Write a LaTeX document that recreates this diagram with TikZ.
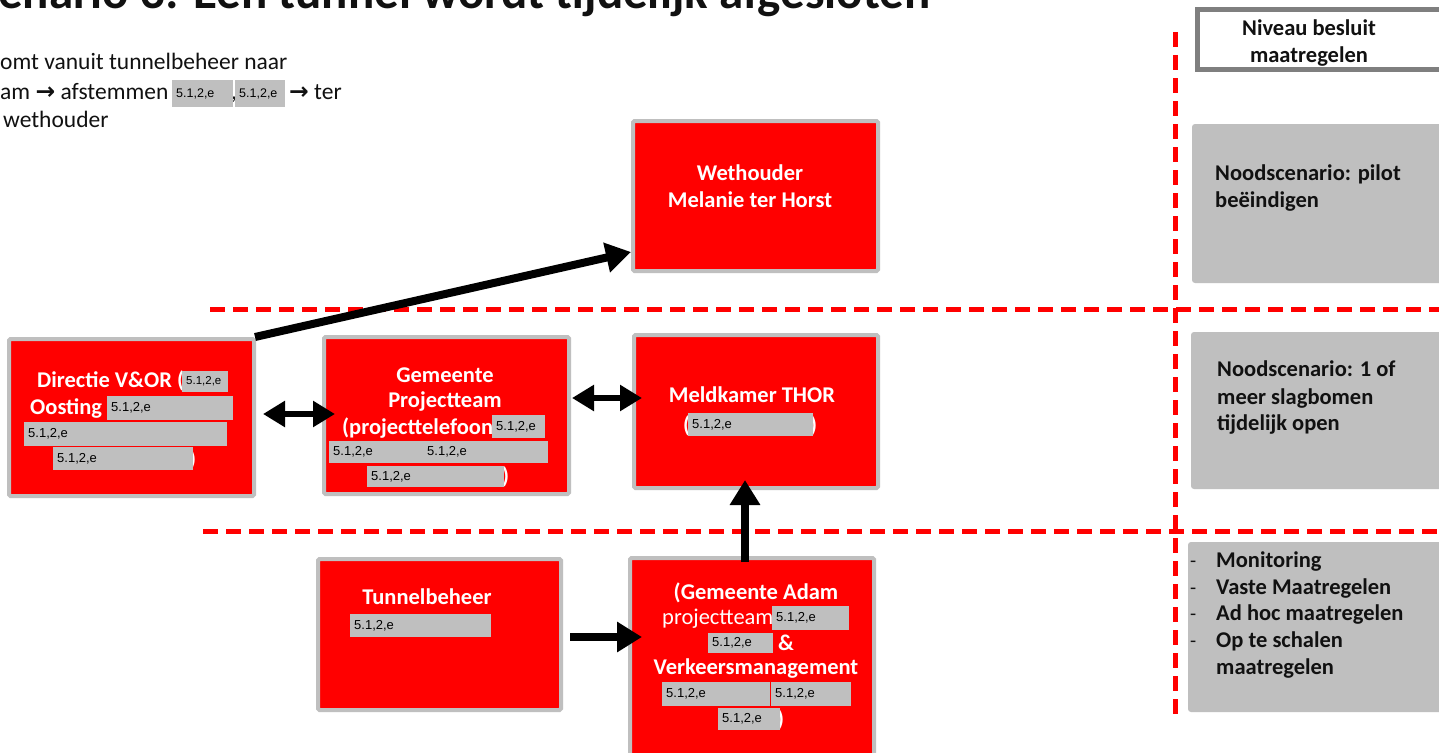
\documentclass[tikz,border=0pt]{standalone}
\usepackage{fontspec}
\setmainfont{Carlito}
\newfontfamily\arialf{Liberation Sans}
\newfontfamily\arrf{DejaVu Sans}
\usetikzlibrary{arrows.meta,calc}
\definecolor{boxgray}{HTML}{BFBFBF}
\definecolor{darkgray}{HTML}{7F7F7F}
\definecolor{txt}{HTML}{111111}
\newcommand\rdx[6][13]{%
  \node[rdbox, minimum width=#5pt, minimum height=#6pt, anchor=north west] (#2) at (#3,#4) {};
  \node[rdtxt, font=\arialf\fontsize{#1}{#1}\selectfont, anchor=west] (#2t) at ([xshift=4pt]#2.west) {5.1,2,e};}
\begin{document}
\begin{tikzpicture}[x=1pt,y=-1pt,
  redbox/.style={draw=boxgray, line width=4pt, fill=red, rounded corners=1.5pt, inner sep=0pt, outer sep=0pt},
  graybox/.style={fill=boxgray, rounded corners=3pt, inner sep=0pt, outer sep=0pt, anchor=north west},
  rdbox/.style={fill=boxgray, inner sep=0pt, outer sep=0pt, draw=none},
  rdtxt/.style={inner sep=0pt, text=black},
  wl/.style={text=white, font=\fontsize{22.5}{27}\selectfont\bfseries, inner sep=0pt, anchor=base},
  wlw/.style={wl, anchor=base west},
  bl/.style={text=txt, font=\fontsize{22.5}{27}\selectfont\bfseries, inner sep=0pt, anchor=base west},
  pl/.style={text=txt, font=\fontsize{23.5}{28}\selectfont, inner sep=0pt, anchor=base west},
  sep/.style={draw=red, line width=5pt, dash pattern=on 15pt off 8pt},
  arr/.style={line width=8pt, -{Triangle[length=25pt,width=29pt]}},
  darr/.style={line width=6pt, {Triangle[length=22pt,width=25pt]}-{Triangle[length=22pt,width=25pt]}},
]
\useasboundingbox (0,0) rectangle (1439,752);
\clip (0,0) rectangle (1439,752);
\fill[white] (0,0) rectangle (1439,752);

% title (cut at top)
\node[text=txt, font=\fontsize{49}{49}\selectfont\bfseries, inner sep=0pt, anchor=base west] (title) at (-2,9) {enario 3: Een tunnel wordt tijdelijk afgesloten};

% intro text
\node[pl] (t1) at (0,70) {omt vanuit tunnelbeheer naar};
\node[pl] (t2a) at (0,99) {am {\arrf\bfseries →} afstemmen};
\node[pl] (t2b) at (231,99) {,};
\rdx[12.5]{r0a}{172}{80}{61}{27}
\rdx[12.5]{r0b}{235}{80}{50}{27}
\node[pl] (t2c) at (289,99) {{\arrf\bfseries →} ter};
\node[pl] (t3) at (3,127) {wethouder};

% separators
\draw[sep] (1175,32) -- (1175,718);
\draw[sep] (210,309) -- (1439,309);
\draw[sep] (203,531) -- (1439,531);

% right column
\draw[draw=darkgray, line width=5pt] (1445,9.5) -- (1197.5,9.5) -- (1197.5,69.5) -- (1445,69.5);
\node[bl, anchor=base] (niv1) at (1309,36) {Niveau besluit};
\node[bl, anchor=base] (niv2) at (1309,63) {maatregelen};

\node[graybox, minimum width=260pt, minimum height=159pt] (g1) at (1192,124) {};
\node[bl] (g1a) at (1215,180) {Noodscenario: pilot};
\node[bl] (g1b) at (1215,207) {beëindigen};

\node[graybox, minimum width=260pt, minimum height=157pt] (g2) at (1191,332) {};
\node[bl] (g2a) at (1217,376) {Noodscenario: 1 of};
\node[bl] (g2b) at (1217,404) {meer slagbomen};
\node[bl] (g2c) at (1217,430) {tijdelijk open};

\node[graybox, minimum width=260pt, minimum height=170pt] (g3) at (1188,542) {};
\foreach \y/\t [count=\i] in {567/Monitoring,594/Vaste Maatregelen,620/Ad hoc maatregelen,647/Op te schalen}{
  \node[pl, font=\fontsize{20}{20}\selectfont] (d\i) at (1190,\y) {-};
  \node[bl] (g3\i) at (1216,\y) {\t};
}
\node[bl] (g35) at (1216,674) {maatregelen};

% red boxes
\node[redbox, minimum width=245pt, minimum height=150pt] (weth) at (755.5,196) {};
\node[redbox, minimum width=245pt, minimum height=157pt] (dir) at (131.5,417.5) {};
\node[redbox, minimum width=245pt, minimum height=157pt] (gem) at (446.5,415.5) {};
\node[redbox, minimum width=244pt, minimum height=153pt] (mel) at (756,411.5) {};
\node[redbox, minimum width=243pt, minimum height=151pt] (tun) at (439.5,634.5) {};
\node[redbox, minimum width=244pt, minimum height=250pt] (adam) at (752,683) {};

% Wethouder
\node[wl] (w1) at (750,180) {Wethouder};
\node[wl] (w2) at (750,207) {Melanie ter Horst};

% Directie
\node[wlw] (d1) at (37,387) {Directie V\&OR (};
\rdx[11.5]{r1}{182}{371}{46}{21}
\node[wlw] (d2) at (30,414) {Oosting};
\rdx{r2}{107}{396}{126}{24}
\rdx{r3}{24}{422}{203}{24}
\node[wlw] (d4p) at (189,466) {)};
\rdx{r4}{53}{447}{140}{23}

% Gemeente projectteam
\node[wl] (p1) at (445,382) {Gemeente};
\node[wl] (p2) at (445,407) {Projectteam};
\node[wlw] (p3) at (342,434) {(projecttelefoon};
\rdx{r5}{492}{415}{53}{23}
\rdx{r6}{329}{441}{219}{22}
\node[rdtxt, font=\arialf\fontsize{13}{13}\selectfont, anchor=west] (r6t2) at (427,452) {5.1,2,e};
\node[wlw] (p4p) at (502,483) {)};
\rdx{r7}{367}{466}{137}{21}

% Meldkamer
\node[wl] (m1) at (752,402) {Meldkamer THOR};
\node[wlw] (m2a) at (683,432) {(};
\node[wlw] (m2b) at (810,432) {)};
\rdx{r8}{688}{413}{125}{23}

% Tunnelbeheer
\node[wl] (tb1) at (427,604) {Tunnelbeheer};
\rdx{r9}{350}{614}{141}{23}

% Gemeente Adam
\node[wl] (a1) at (756,599) {(Gemeente Adam};
\node[wlw, font=\fontsize{22.5}{27}\selectfont] (a2) at (662,624) {projectteam};
\rdx{r10}{772}{606}{77}{24}
\rdx{r11}{708}{633}{65}{20}
\node[wlw] (a3) at (778,650) {\&};
\node[wl] (a4) at (756,674) {Verkeersmanagement};
\rdx{r12}{662}{682}{108}{24}
\rdx{r13}{771}{682}{80}{24}
\node[wlw] (a5p) at (777,726) {)};
\rdx{r14}{718}{708}{62}{22}

% connectors
\coordinate (wtip) at ($(weth.south west)+(-2,-19)$);
\draw[arr] ($(dir.north east)+(1,-2)$) -- (wtip);
\draw[darr] ($(dir.east)+(9,-3.5)$) -- ($(gem.west)+(11,-1.5)$);
\draw[darr] ($(gem.east)+(3,-17.5)$) -- ($(mel.west)+(8,-13.5)$);
\draw[arr] ($(adam.north)+(-7,4)$) -- ($(mel.south)+(-11,-8)$);
\draw[arr] ($(tun.east)+(9,2.5)$) -- ($(adam.west |- tun.east)+(12,2.5)$);
\end{tikzpicture}
\end{document}
